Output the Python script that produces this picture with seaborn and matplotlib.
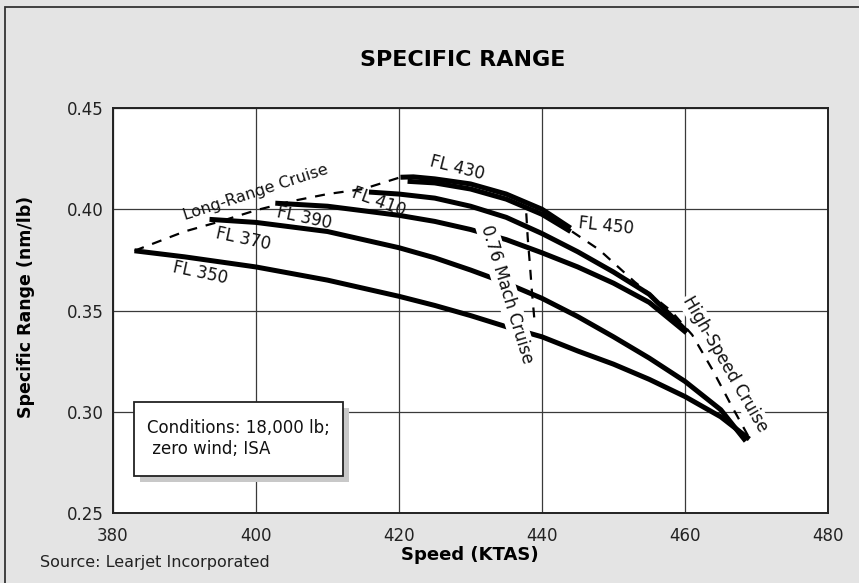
import matplotlib.pyplot as plt
import matplotlib.patches as mpatches
import seaborn as sns

# flight level curves: speed (KTAS) vs specific range (nm/lb)
fl350_x = [383, 390, 400, 410, 420, 425, 430, 435, 440, 445, 450, 455, 460, 465, 469]
fl350_y = [0.3795, 0.3765, 0.3715, 0.365, 0.357, 0.3525, 0.3475, 0.342, 0.337, 0.330, 0.3235, 0.316, 0.3075, 0.2975, 0.2865]
fl370_x = [393.5, 400, 410, 420, 425, 430, 435, 440, 445, 450, 455, 460, 465, 468.5]
fl370_y = [0.395, 0.3935, 0.389, 0.381, 0.376, 0.370, 0.3635, 0.356, 0.347, 0.337, 0.3265, 0.315, 0.301, 0.2855]
fl390_x = [402.7, 410, 420, 425, 430, 435, 440, 445, 450, 455, 460.2]
fl390_y = [0.403, 0.4015, 0.397, 0.394, 0.390, 0.385, 0.3785, 0.3715, 0.3635, 0.354, 0.339]
fl410_x = [415.8, 420, 425, 430, 435, 440, 445, 450, 455, 460.3]
fl410_y = [0.4085, 0.4075, 0.4055, 0.4015, 0.396, 0.388, 0.379, 0.369, 0.358, 0.3395]
fl430_x = [420.2, 422, 425, 430, 435, 440, 444]
fl430_y = [0.4158, 0.416, 0.415, 0.4125, 0.4075, 0.400, 0.3907]
fl450_x = [421.2, 425, 430, 435, 440, 444]
fl450_y = [0.4138, 0.413, 0.410, 0.405, 0.3975, 0.389]

# cruise schedules (dashed)
lrc_x = [383, 390, 395, 400, 405, 410, 415, 420.2]
lrc_y = [0.3795, 0.389, 0.394, 0.3995, 0.404, 0.4075, 0.410, 0.4158]
mach_x = [437.8, 438.0, 438.3, 438.6, 439.0]
mach_y = [0.398, 0.386, 0.373, 0.359, 0.343]
hsc_x = [444.2, 448, 453, 458, 461, 463.8, 466.5, 469]
hsc_y = [0.389, 0.380, 0.364, 0.350, 0.338, 0.321, 0.303, 0.287]

x_ticks = [380, 400, 420, 440, 460, 480]
y_ticks = [0.25, 0.30, 0.35, 0.40, 0.45]

sns.set_style("white")
plt.rcParams['font.family'] = ['DejaVu Sans']

bg = '#e4e4e4'
fig = plt.figure(figsize=(8.59, 5.83), dpi=100, facecolor=bg)
ax = fig.add_axes([113 / 859, 70 / 583, 715 / 859, 405 / 583])
ax.set_facecolor('white')

# outer frame (left and top edges visible)
fig.add_artist(mpatches.Rectangle((4.5 / 859, -0.05), 1.1, (583 - 7.5) / 583 + 0.05,
                                  transform=fig.transFigure, fill=False,
                                  ec='#333333', lw=1.3))

solid = [(fl350_x, fl350_y), (fl370_x, fl370_y), (fl390_x, fl390_y),
         (fl410_x, fl410_y), (fl430_x, fl430_y), (fl450_x, fl450_y)]
for xs, ys in solid:
    sns.lineplot(x=xs, y=ys, ax=ax, color='black', lw=3.6, sort=False,
                 estimator=None, solid_capstyle='butt', zorder=2)

for xs, ys in [(lrc_x, lrc_y), (mach_x, mach_y), (hsc_x, hsc_y)]:
    sns.lineplot(x=xs, y=ys, ax=ax, color='black', lw=1.6, sort=False,
                 estimator=None, linestyle=(0, (4.5, 4)), zorder=2)

ax.set_xlim(380, 480)
ax.set_ylim(0.25, 0.45)
ax.set_xticks(x_ticks)
ax.set_yticks(y_ticks)
ax.set_yticklabels([f"{v:.2f}" for v in y_ticks])
ax.grid(True, color='#3a3a3a', lw=0.9)
ax.set_axisbelow(True)
for s in ax.spines.values():
    s.set_color('#222222')
    s.set_linewidth(1.4)
ax.tick_params(axis='both', length=0, labelsize=12, labelcolor='#222222')
ax.tick_params(axis='x', pad=10)
ax.tick_params(axis='y', pad=6.5)

ax.set_xlabel('Speed (KTAS)', fontsize=13, fontweight='bold', color='black')
ax.xaxis.set_label_coords((470 - 113) / 715, (513 - 546) / 405)
ax.set_ylabel('Specific Range (nm/lb)', fontsize=12.5, fontweight='bold', color='black')
ax.yaxis.set_label_coords((35 - 113) / 715, (513 - 307) / 405)
ax.set_title('SPECIFIC RANGE', fontsize=16, fontweight='bold', color='black',
             x=(463 - 113) / 715, pad=30)

# curve labels
labels = [
    ('FL 430', 428.2, 0.4204, -14),
    ('FL 450', 449.0, 0.3917, -6),
    ('FL 410', 417.2, 0.4036, -20),
    ('FL 390', 406.8, 0.3957, -12),
    ('FL 370', 398.2, 0.3853, -12),
    ('FL 350', 392.2, 0.3685, -12),
]
for txt, lx, ly, rot in labels:
    ax.text(lx, ly, txt, fontsize=12, rotation=rot, ha='center', va='center',
            rotation_mode='anchor', color='#111111', zorder=4)

ax.text(400.0, 0.4085, 'Long-Range Cruise', fontsize=11.5, rotation=18,
        ha='center', va='center', rotation_mode='anchor', color='#111111', zorder=4)
ax.text(435.1, 0.3582, '0.76 Mach Cruise', fontsize=12, rotation=-73,
        ha='center', va='center', rotation_mode='anchor', color='#111111', zorder=4,
        bbox=dict(fc='white', ec='none', pad=1.5))
ax.text(465.6, 0.3236, 'High-Speed Cruise', fontsize=12, rotation=-60,
        ha='center', va='center', rotation_mode='anchor', color='#111111', zorder=4,
        bbox=dict(fc='white', ec='none', pad=1.0))

# conditions box with shadow
bx0, by0 = (134 - 113) / 715, (513 - 476) / 405
bw, bh = (343 - 134) / 715, (476 - 402) / 405
ax.add_patch(mpatches.Rectangle((bx0 + 6 / 715, by0 - 6 / 405), bw, bh,
                                transform=ax.transAxes, fc='#c8c8c8', ec='none', zorder=5))
ax.add_patch(mpatches.Rectangle((bx0, by0), bw, bh, transform=ax.transAxes,
                                fc='white', ec='#222222', lw=1.3, zorder=6))
ax.text((147 - 113) / 715, (513 - 438.5) / 405, 'Conditions: 18,000 lb;\n zero wind; ISA',
        transform=ax.transAxes, fontsize=12, va='center', ha='left',
        linespacing=1.25, color='#111111', zorder=7)

fig.text(40 / 859, 1 - 563 / 583, 'Source: Learjet Incorporated', fontsize=11.5,
         va='center', ha='left', color='#222222')

fig.savefig('out.png', dpi=100, facecolor=bg)
